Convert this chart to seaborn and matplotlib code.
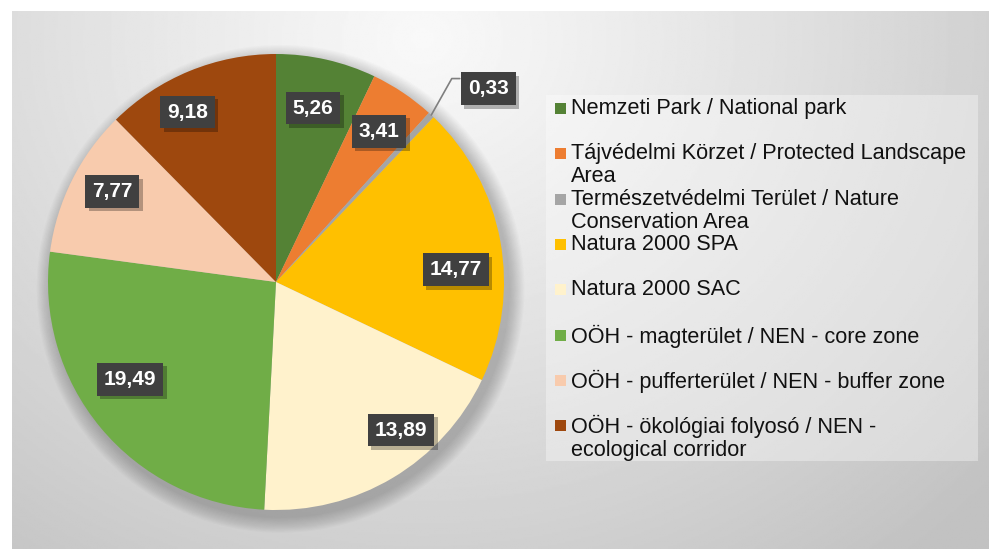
import numpy as np
import matplotlib
matplotlib.use("Agg")
import matplotlib.pyplot as plt
import matplotlib.patheffects as pe
import seaborn as sns
from matplotlib.patches import Rectangle, Circle

sns.set_theme(style="white")
plt.rcParams['font.family'] = ['Liberation Sans', 'DejaVu Sans']

# data
categories = [
    "Nemzeti Park / National park",
    "Tájvédelmi Körzet / Protected Landscape\nArea",
    "Természetvédelmi Terület / Nature\nConservation Area",
    "Natura 2000 SPA",
    "Natura 2000 SAC",
    "OÖH - magterület / NEN - core zone",
    "OÖH - pufferterület / NEN - buffer zone",
    "OÖH - ökológiai folyosó / NEN -\necological corridor",
]
values = [5.26, 3.41, 0.33, 14.77, 13.89, 19.49, 7.77, 9.18]
colors = ["#548235", "#ED7D31", "#A5A5A5", "#FFC000",
          "#FFF2CC", "#70AD47", "#F8CBAD", "#9E480E"]
# label placement: fraction of radius and angle shift (deg) from slice middle
label_r = [0.78, 0.80, None, 0.79, 0.85, 0.77, 0.82, 0.84]
label_da = [0.8, -0.5, 0, -6.5, 9.4, -6.0, -2.4, 5.2]

W, H = 989, 549
fig = plt.figure(figsize=(W / 100, H / 100), dpi=100)
fig.patch.set_facecolor("white")

# gradient background panel
bg = fig.add_axes([12 / W, 0, 1 - 12 / W, 1 - 11 / H])
yy, xx = np.mgrid[0:1:300j, 0:1:540j]
d = np.sqrt(((xx - 0.42) * 1.6) ** 2 + ((yy - 0.05) * 1.0) ** 2)
d = np.clip(d / 1.25, 0, 1)
light, dark = 0.975, 0.76
grad = light - (light - dark) * d ** 1.1
bg.imshow(grad, cmap="gray", vmin=0, vmax=1, aspect="auto", extent=[0, 1, 1, 0])
bg.set_axis_off()

# pie axes
cx, cy, R = 276, 282, 228
ax = fig.add_axes([(cx - R) / W, (H - cy - R) / H, 2 * R / W, 2 * R / H])

# soft shadow
for k in range(14):
    ax.add_patch(Circle((0.02, -0.03), 1.0 + 0.07 * (14 - k) / 14,
                        color="black", alpha=0.016, lw=0, zorder=0, clip_on=False))

wedges, _ = ax.pie(values, colors=colors, startangle=90, counterclock=False,
                   radius=1, wedgeprops=dict(linewidth=0))
ax.set_xlim(-1, 1)
ax.set_ylim(-1, 1)
ax.set_axis_off()

box = dict(boxstyle="square,pad=0.33", fc="#404040", ec="none")
fs = 15


def data_label(x, y, txt):
    t = ax.text(x, y, txt, ha="center", va="center", color="white", fontsize=fs,
                fontweight="bold", bbox=box, zorder=5, clip_on=False)
    t.get_bbox_patch().set_path_effects(
        [pe.SimplePatchShadow(offset=(2.5, -2.5), shadow_rgbFace="black", alpha=0.28),
         pe.Normal()])


total = sum(values)
start = 90.0
for v, r, da in zip(values, label_r, label_da):
    span = 360 * v / total
    mid = np.deg2rad(start - span / 2)
    start -= span
    txt = f"{v:.2f}".replace(".", ",")
    if r is None:
        # small slice: label outside with leader line
        px, py = np.cos(mid), np.sin(mid)
        lx, ly = px + 0.09, py + 0.16
        ax.plot([px, lx, lx + 0.035], [py, ly, ly], color="#7f7f7f", lw=1.2,
                clip_on=False, zorder=3)
        data_label(lx + 0.16, ly - 0.045, txt)
    else:
        a = mid + np.deg2rad(da)
        data_label(r * np.cos(a), r * np.sin(a), txt)

# legend
lax = fig.add_axes([0, 0, 1, 1])
lax.set_xlim(0, W)
lax.set_ylim(H, 0)
lax.set_axis_off()
lax.add_patch(Rectangle((546, 95), 432, 366, fc="white", ec="none", alpha=0.35))
for i, (lab, c) in enumerate(zip(categories, colors)):
    y = 108 + 45.3 * i
    lax.add_patch(Rectangle((555, y - 5), 11, 11, fc=c, ec="none"))
    lax.text(571, y - 10, lab, ha="left", va="top", fontsize=15.6,
             color="#111111", linespacing=1.12)

fig.savefig("out.png", dpi=100)
